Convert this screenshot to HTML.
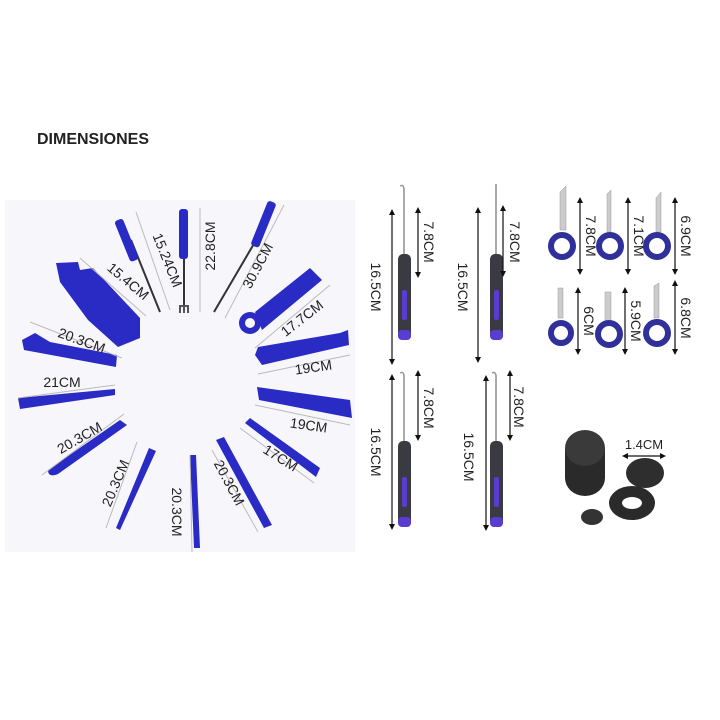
<!DOCTYPE html>
<html><head><meta charset="utf-8"><style>
html,body{margin:0;padding:0;background:#fff;width:720px;height:720px;overflow:hidden}
svg{display:block}
text{font-family:"Liberation Sans",sans-serif;fill:#222}
</style></head><body>
<svg width="720" height="720" viewBox="0 0 720 720" xmlns="http://www.w3.org/2000/svg">
<defs>
<marker id="ah" viewBox="0 0 10 10" refX="5" refY="5" markerWidth="5" markerHeight="5" orient="auto-start-reverse"><path d="M0,0L10,5L0,10z" fill="#111"/></marker>
</defs>
<rect x="5" y="200" width="350" height="352" fill="#f7f7fb"/>
<text x="37" y="144" font-size="16" font-weight="bold" fill="#333">DIMENSIONES</text>

<g fill="#2a2ac4" stroke="none">
 <line x1="131" y1="240" x2="160" y2="312" stroke="#333" stroke-width="2"/>
 <rect x="122" y="218" width="9" height="44" rx="3" transform="rotate(-22 127 240)"/>
 <line x1="184" y1="250" x2="184" y2="305" stroke="#333" stroke-width="2"/>
 <rect x="179" y="209" width="9" height="50" rx="3"/>
 <path d="M179 305h10v8h-2v-6h-2v6h-2v-6h-2v6h-2z" fill="#555"/>
 <line x1="262" y1="230" x2="214" y2="312" stroke="#333" stroke-width="2"/>
 <rect x="259" y="200" width="9" height="48" rx="3" transform="rotate(22 263 224)"/>
 <!-- big flat -->
 <path d="M56 263L78 262L80 270L93 268L140 318L140 338L118 347L88 320L60 282z"/>
 <circle cx="250" cy="323" r="11"/>
 <path d="M255 312L310 268L322 280L262 330z"/>
 <circle cx="250" cy="323" r="5" fill="#f7f7fb"/>
 <path d="M22 340L35 333L50 342L117 355L116 367L24 350z"/>
 <path d="M255 355L258 347L340 333L348 330L349 345L262 365z"/>
 <path d="M18 398L115 389L115 395L20 409z"/>
 <path d="M257 387L350 400L352 418L259 400z"/>
 <path d="M48 470L120 420L127 425L58 474Q48 478 48 470z"/>
 <path d="M245 423L250 418L320 468L316 477z"/>
 <path d="M149 448L156 451L120 530L116 528z"/>
 <path d="M190 455L196 455L200 548L194 548z"/>
 <path d="M216 440L224 437L272 525L264 528z"/>
</g>
<g stroke="#bbb" stroke-width="1">
 <line x1="136" y1="212" x2="170" y2="310"/>
 <line x1="200" y1="208" x2="200" y2="312"/>
 <line x1="284" y1="205" x2="225" y2="318"/>
 <line x1="80" y1="258" x2="146" y2="316"/>
 <line x1="330" y1="285" x2="255" y2="348"/>
 <line x1="30" y1="322" x2="122" y2="358"/>
 <line x1="258" y1="374" x2="350" y2="355"/>
 <line x1="18" y1="398" x2="115" y2="385"/>
 <line x1="255" y1="405" x2="350" y2="425"/>
 <line x1="42" y1="475" x2="124" y2="414"/>
 <line x1="240" y1="428" x2="314" y2="483"/>
 <line x1="106" y1="528" x2="137" y2="442"/>
 <line x1="190" y1="455" x2="192" y2="552"/>
 <line x1="212" y1="450" x2="258" y2="532"/>
</g>
<g font-size="14">
 <text transform="translate(163 262) rotate(68)" text-anchor="middle">15.24CM</text>
 <text transform="translate(215 246) rotate(-90)" text-anchor="middle">22.8CM</text>
 <text transform="translate(262 268) rotate(-62)" text-anchor="middle">30.9CM</text>
 <text transform="translate(125 285) rotate(40)" text-anchor="middle">15.4CM</text>
 <text transform="translate(305 322) rotate(-38)" text-anchor="middle">17.7CM</text>
 <text transform="translate(80 345) rotate(20)" text-anchor="middle">20.3CM</text>
 <text transform="translate(314 372) rotate(-8)" text-anchor="middle">19CM</text>
 <text x="62" y="387" text-anchor="middle">21CM</text>
 <text transform="translate(308 430) rotate(8)" text-anchor="middle">19CM</text>
 <text transform="translate(82 442) rotate(-30)" text-anchor="middle">20.3CM</text>
 <text transform="translate(278 462) rotate(32)" text-anchor="middle">17CM</text>
 <text transform="translate(120 485) rotate(-67)" text-anchor="middle">20.3CM</text>
 <text transform="translate(172 512) rotate(90)" text-anchor="middle">20.3CM</text>
 <text transform="translate(225 485) rotate(62)" text-anchor="middle">20.3CM</text>
</g>

<g id="sd">
 <path d="M404 190q0-6-4-4" stroke="#999" fill="none" stroke-width="1.5"/>
 <line x1="404" y1="188" x2="404" y2="256" stroke="#aaa" stroke-width="2"/>
 <rect x="398" y="254" width="13" height="86" rx="5" fill="#3a3a42"/>
 <rect x="402" y="290" width="5" height="30" rx="2" fill="#5a3cd0"/>
 <rect x="398" y="330" width="13" height="10" rx="4" fill="#5a3cd0"/>
</g>
<g transform="translate(92 0)">
 <line x1="404" y1="184" x2="404" y2="256" stroke="#aaa" stroke-width="2"/>
 <rect x="398" y="254" width="13" height="86" rx="5" fill="#3a3a42"/>
 <rect x="402" y="290" width="5" height="30" rx="2" fill="#5a3cd0"/>
 <rect x="398" y="330" width="13" height="10" rx="4" fill="#5a3cd0"/>
</g>
<use href="#sd" transform="translate(0 187)"/>
<use href="#sd" transform="translate(92 187)"/>
<g stroke="#111" stroke-width="1.2" marker-start="url(#ah)" marker-end="url(#ah)">
 <line x1="392" y1="212" x2="392" y2="362"/>
 <line x1="418" y1="210" x2="418" y2="275"/>
 <line x1="478" y1="210" x2="478" y2="360"/>
 <line x1="503" y1="208" x2="503" y2="274"/>
 <line x1="392" y1="377" x2="392" y2="527"/>
 <line x1="418" y1="373" x2="418" y2="438"/>
 <line x1="486" y1="378" x2="486" y2="528"/>
 <line x1="510" y1="373" x2="510" y2="438"/>
 <line x1="580" y1="200" x2="580" y2="272"/>
 <line x1="628" y1="200" x2="628" y2="272"/>
 <line x1="675" y1="200" x2="675" y2="272"/>
 <line x1="578" y1="290" x2="578" y2="352"/>
 <line x1="625" y1="290" x2="625" y2="352"/>
 <line x1="675" y1="283" x2="675" y2="352"/>
 <line x1="625" y1="456" x2="663" y2="456"/>
</g>
<g font-size="14">
 <text transform="translate(371 287) rotate(90)" text-anchor="middle">16.5CM</text>
 <text transform="translate(424 242) rotate(90)" text-anchor="middle">7.8CM</text>
 <text transform="translate(458 287) rotate(90)" text-anchor="middle">16.5CM</text>
 <text transform="translate(510 242) rotate(90)" text-anchor="middle">7.8CM</text>
 <text transform="translate(371 452) rotate(90)" text-anchor="middle">16.5CM</text>
 <text transform="translate(424 408) rotate(90)" text-anchor="middle">7.8CM</text>
 <text transform="translate(464 457) rotate(90)" text-anchor="middle">16.5CM</text>
 <text transform="translate(514 407) rotate(90)" text-anchor="middle">7.8CM</text>
 <text transform="translate(586 236) rotate(90)" text-anchor="middle">7.8CM</text>
 <text transform="translate(634 236) rotate(90)" text-anchor="middle">7.1CM</text>
 <text transform="translate(681 236) rotate(90)" text-anchor="middle">6.9CM</text>
 <text transform="translate(584 321) rotate(90)" text-anchor="middle">6CM</text>
 <text transform="translate(631 321) rotate(90)" text-anchor="middle">5.9CM</text>
 <text transform="translate(681 318) rotate(90)" text-anchor="middle">6.8CM</text>
 <text x="644" y="449" text-anchor="middle" font-size="13">1.4CM</text>
</g>
<g fill="#ccc" stroke="#999" stroke-width="0.5">
 <path d="M560 230v-38l6 -6v44z"/><path d="M607 232v-38l4 -4v42z"/><path d="M656 232v-34l5 -6v40z"/>
 <path d="M558 318v-30h5v30z"/><path d="M605 322v-30h6v30z"/><path d="M654 318v-32l5-3v35z"/>
</g>
<g fill="none" stroke="#30309a" stroke-width="6">
 <circle cx="562" cy="246" r="11"/><circle cx="610" cy="246" r="11"/><circle cx="657" cy="246" r="11"/>
 <circle cx="561" cy="333" r="10"/><circle cx="609" cy="334" r="11"/><circle cx="657" cy="333" r="11"/>
</g>
<rect x="565" y="448" width="40" height="30" fill="#2a2a2a"/>
<ellipse cx="585" cy="478" rx="20" ry="18" fill="#2a2a2a"/>
<ellipse cx="585" cy="448" rx="20" ry="18" fill="#3a3a3a"/>
<ellipse cx="645" cy="473" rx="19" ry="15" fill="#2e2e2e"/>
<ellipse cx="632" cy="503" rx="23" ry="17" fill="#2a2a2a"/>
<ellipse cx="632" cy="503" rx="10" ry="6" fill="#fff"/>
<ellipse cx="592" cy="517" rx="11" ry="8" fill="#333"/>
</svg>
</body></html>
